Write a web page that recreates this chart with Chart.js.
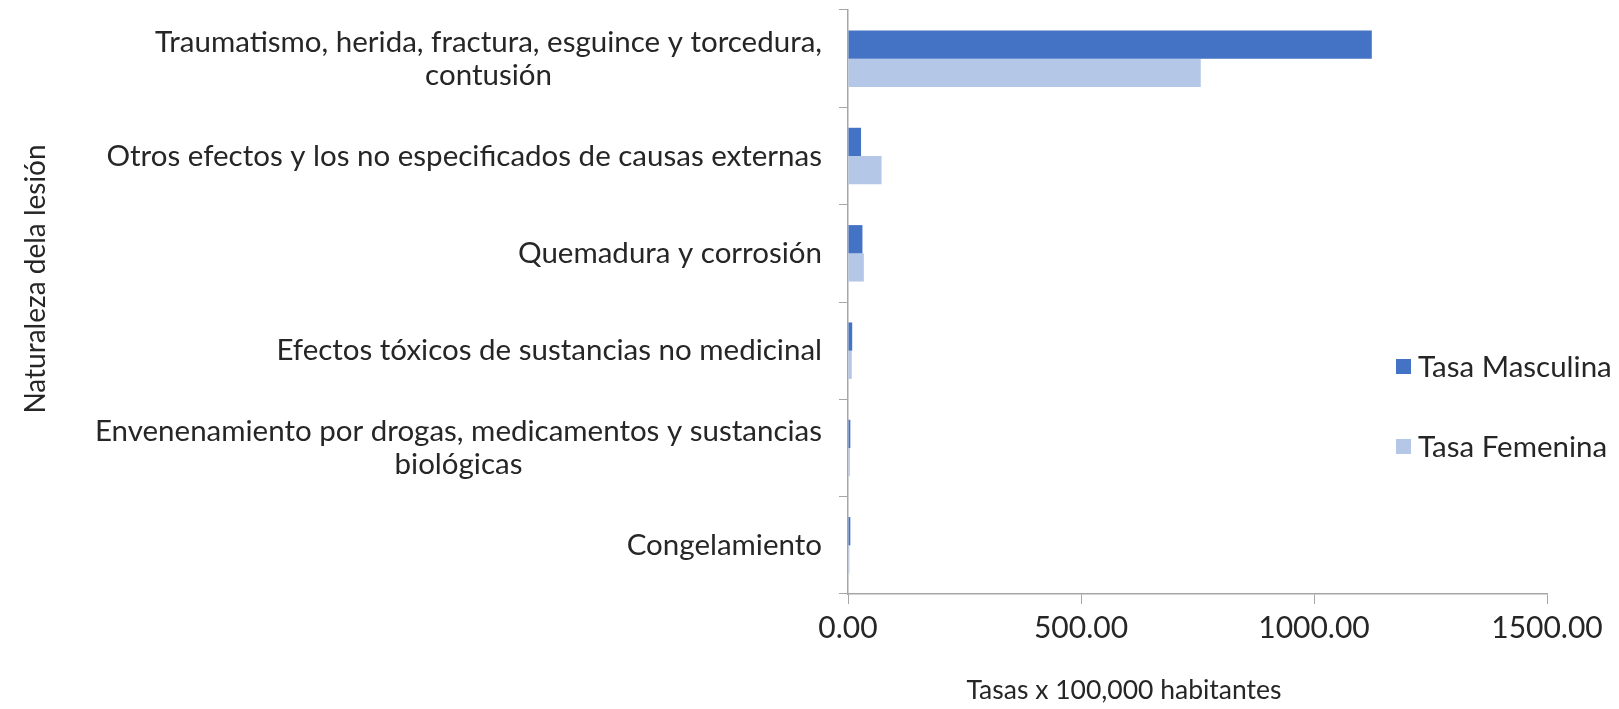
<!DOCTYPE html>
<html>
<head>
<meta charset="utf-8">
<script src="https://cdn.jsdelivr.net/npm/chart.js@4/dist/chart.umd.min.js"></script>
<style>
  html, body { margin: 0; padding: 0; background: #fff; }
</style>
</head>
<body>
<canvas id="chart" width="1619" height="709"></canvas>
<script>
const categories = [
  ["Traumatismo, herida, fractura, esguince y torcedura,", "contusión"],
  ["Otros efectos y los no especificados de causas externas"],
  ["Quemadura y corrosión"],
  ["Efectos tóxicos de sustancias no medicinal"],
  ["Envenenamiento por drogas, medicamentos y sustancias", "biológicas"],
  ["Congelamiento"]
]
const tasaMasculina = [1124, 28, 31, 9, 5, 5]
const tasaFemenina = [757, 72, 34, 8, 4, 3]
const xTicks = [0, 500, 1000, 1500]
const xTitle = "Tasas x 100,000 habitantes"
const yTitle = "Naturaleza dela lesión"

const FONT = "Lato, 'Open Sans', sans-serif"
const TEXT = "#262626"
const AXIS = "#a6a6a6"

// Excel-style text: centred multi-line category labels, axis titles and legend
const excelText = {
  id: "excelText",
  afterDraw(chart) {
    const { ctx, scales: { y }, chartArea } = chart
    ctx.save()
    ctx.fillStyle = TEXT
    ctx.font = "29.5px " + FONT
    ctx.textBaseline = "middle"

    const labelRight = chartArea.left - 26
    const lineH = 33
    categories.forEach((lines, i) => {
      const widest = Math.max(...lines.map(l => ctx.measureText(l).width))
      const cx = labelRight - widest / 2
      const cy = y.getPixelForValue(i)
      ctx.textAlign = "center"
      lines.forEach((line, k) => {
        ctx.fillText(line, cx, cy + (k - (lines.length - 1) / 2) * lineH)
      })
    })

    // legend
    ctx.textAlign = "left"
    chart.data.datasets.forEach((ds, i) => {
      const cy = 367 + i * 80
      ctx.fillStyle = ds.backgroundColor
      ctx.fillRect(1396, cy - 8, 15, 15)
      ctx.fillStyle = TEXT
      ctx.fillText(ds.label, 1418, cy)
    })

    // axis titles
    ctx.textAlign = "center"
    ctx.font = "26.5px " + FONT
    ctx.fillText(xTitle, 1124, 690)
    ctx.translate(36, 279)
    ctx.rotate(-Math.PI / 2)
    ctx.font = "28px " + FONT
    ctx.fillText(yTitle, 0, 0)
    ctx.restore()
  }
}

new Chart(document.getElementById("chart"), {
  type: "bar",
  data: {
    labels: categories,
    datasets: [
      {
        label: "Tasa Masculina",
        data: tasaMasculina,
        backgroundColor: "#4472c4",
        barPercentage: 1,
        categoryPercentage: 0.58
      },
      {
        label: "Tasa Femenina",
        data: tasaFemenina,
        backgroundColor: "#b4c7e7",
        barPercentage: 1,
        categoryPercentage: 0.58
      }
    ]
  },
  options: {
    indexAxis: "y",
    responsive: false,
    animation: false,
    layout: { padding: { top: 10, right: 72, left: 0, bottom: 0 } },
    plugins: {
      legend: { display: false },
      tooltip: { enabled: false }
    },
    scales: {
      x: {
        min: 0,
        max: 1500,
        afterBuildTicks: s => { s.ticks = xTicks.map(v => ({ value: v })) },
        afterFit: s => { s.height = 115 },
        ticks: {
          padding: 6,
          color: TEXT,
          font: { family: FONT, size: 30 },
          maxRotation: 0,
          callback: v => v.toFixed(2)
        },
        grid: { drawOnChartArea: false, drawTicks: true, tickLength: 10, color: AXIS },
        border: { color: AXIS, width: 1.5 }
      },
      y: {
        afterFit: s => { s.width = 848 },
        ticks: { display: false },
        grid: { drawOnChartArea: false, drawTicks: true, tickLength: 9, color: AXIS, offset: true },
        border: { color: AXIS, width: 1.5 }
      }
    }
  },
  plugins: [excelText]
})
</script>
</body>
</html>
